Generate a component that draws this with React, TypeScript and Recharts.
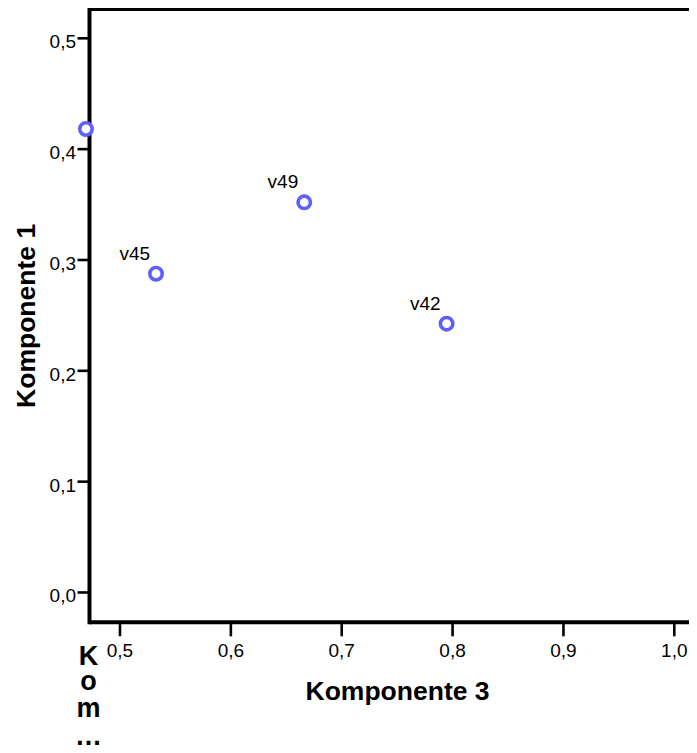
import React from 'react';
import { ScatterChart, Scatter, XAxis, YAxis, ReferenceLine } from 'recharts';

const X_TICKS = [0.5, 0.6, 0.7, 0.8, 0.9, 1.0];
const Y_TICKS = [0, 0.1, 0.2, 0.3, 0.4, 0.5];
const X_VALUES = [0.4693, 0.5325, 0.6662, 0.7946];
const Y_VALUES = [0.4182, 0.2876, 0.352, 0.2425];
const POINT_LABELS = ['', 'v45', 'v49', 'v42'];
const X_DOMAIN: [number, number] = [0.46, 1.08];
const Y_DOMAIN: [number, number] = [-0.0269, 0.526];
const AXIS_X = 0.4725;
const X_TITLE = 'Komponente 3';
const Y_TITLE = 'Komponente 1';
const EXTRA_LABEL = ['K', 'o', 'm', '…'];

const data = X_VALUES.map((x, i) => ({ x, y: Y_VALUES[i], label: POINT_LABELS[i] }));

const FONT = 'Arial, "Liberation Sans", Helvetica, sans-serif';
const fmt = (v: number) => v.toFixed(1).replace('.', ',');
const MARKER = '#5f5ffb';

const YTick = (props: any) => {
  const { x, y, payload } = props;
  const ax = x + 13.9;
  return (
    <g>
      <line x1={ax - 12} x2={ax} y1={y} y2={y} stroke="#000" strokeWidth={2.6} />
      <text x={ax - 13.5} y={y + 10} textAnchor="end" fontSize={19} fontFamily={FONT} fill="#000">
        {fmt(payload.value)}
      </text>
    </g>
  );
};

const PointShape = (props: any) => {
  const { cx, cy, payload } = props;
  return (
    <g>
      <circle cx={cx} cy={cy} r={6.2} fill="#fff" stroke={MARKER} strokeWidth={3.6} />
      {payload.label ? (
        <text x={cx - 6} y={cy - 14} textAnchor="end" fontSize={19} fontFamily={FONT} fill="#000">
          {payload.label}
        </text>
      ) : null}
    </g>
  );
};

const XTitle = (props: any) => {
  const vb = props.viewBox || {};
  const x0 = vb.x ?? 0;
  const y0 = vb.y ?? 0;
  return (
    <g>
      <text x={x0 + 321.9} y={y0 + 77.3} textAnchor="middle" fontSize={26.5} fontWeight="bold" fontFamily={FONT} fill="#000">
        {X_TITLE}
      </text>
      {EXTRA_LABEL.map((ch, i) => (
        <text key={i} x={x0 + 12.9} y={y0 + 42.7 + [0, 25, 52, 80][i]} textAnchor="middle" fontSize={27} fontWeight="bold" fontFamily={FONT} fill="#000">
          {ch}
        </text>
      ))}
    </g>
  );
};

const YTitle = (props: any) => {
  const vb = props.viewBox || {};
  const cx = 18;
  const cy = (vb.y ?? 0) + (vb.height ?? 0) / 2;
  return (
    <text x={cx} y={cy} transform={`rotate(-90, ${cx}, ${cy})`} textAnchor="middle" dominantBaseline="central" fontSize={26.5} fontWeight="bold" fontFamily={FONT} fill="#000">
      {Y_TITLE}
    </text>
  );
};

export default function App() {
  return (
    <div style={{ width: 689, height: 745, overflow: 'hidden', background: '#fff' }}>
      <ScatterChart width={755} height={745} margin={{ top: 1.5, right: 0, left: 0, bottom: 70.7 }}>
        <XAxis
          type="number"
          dataKey="x"
          domain={X_DOMAIN}
          ticks={X_TICKS}
          tickFormatter={fmt}
          axisLine={false}
          tickLine={{ stroke: '#000', strokeWidth: 2.6 }}
          tickSize={14}
          tickMargin={7}
          tick={{ fill: '#000', fontSize: 19, fontFamily: FONT }}
          height={60}
          interval={0}
          label={<XTitle />}
        />
        <YAxis
          type="number"
          dataKey="y"
          domain={Y_DOMAIN}
          ticks={Y_TICKS}
          axisLine={false}
          tickLine={false}
          tickSize={0}
          tickMargin={0}
          tick={<YTick />}
          width={67.64}
          interval={0}
          label={<YTitle />}
        />
        <ReferenceLine x={AXIS_X} stroke="#000" strokeWidth={4} strokeLinecap="square" ifOverflow="visible" />
        <ReferenceLine
          segment={[{ x: AXIS_X, y: Y_DOMAIN[0] }, { x: X_DOMAIN[1], y: Y_DOMAIN[0] }]}
          stroke="#000"
          strokeWidth={4}
          ifOverflow="visible"
        />
        <ReferenceLine
          segment={[{ x: AXIS_X, y: Y_DOMAIN[1] }, { x: X_DOMAIN[1], y: Y_DOMAIN[1] }]}
          stroke="#000"
          strokeWidth={3}
          ifOverflow="visible"
        />
        <Scatter data={data} shape={<PointShape />} isAnimationActive={false} />
      </ScatterChart>
    </div>
  );
}
